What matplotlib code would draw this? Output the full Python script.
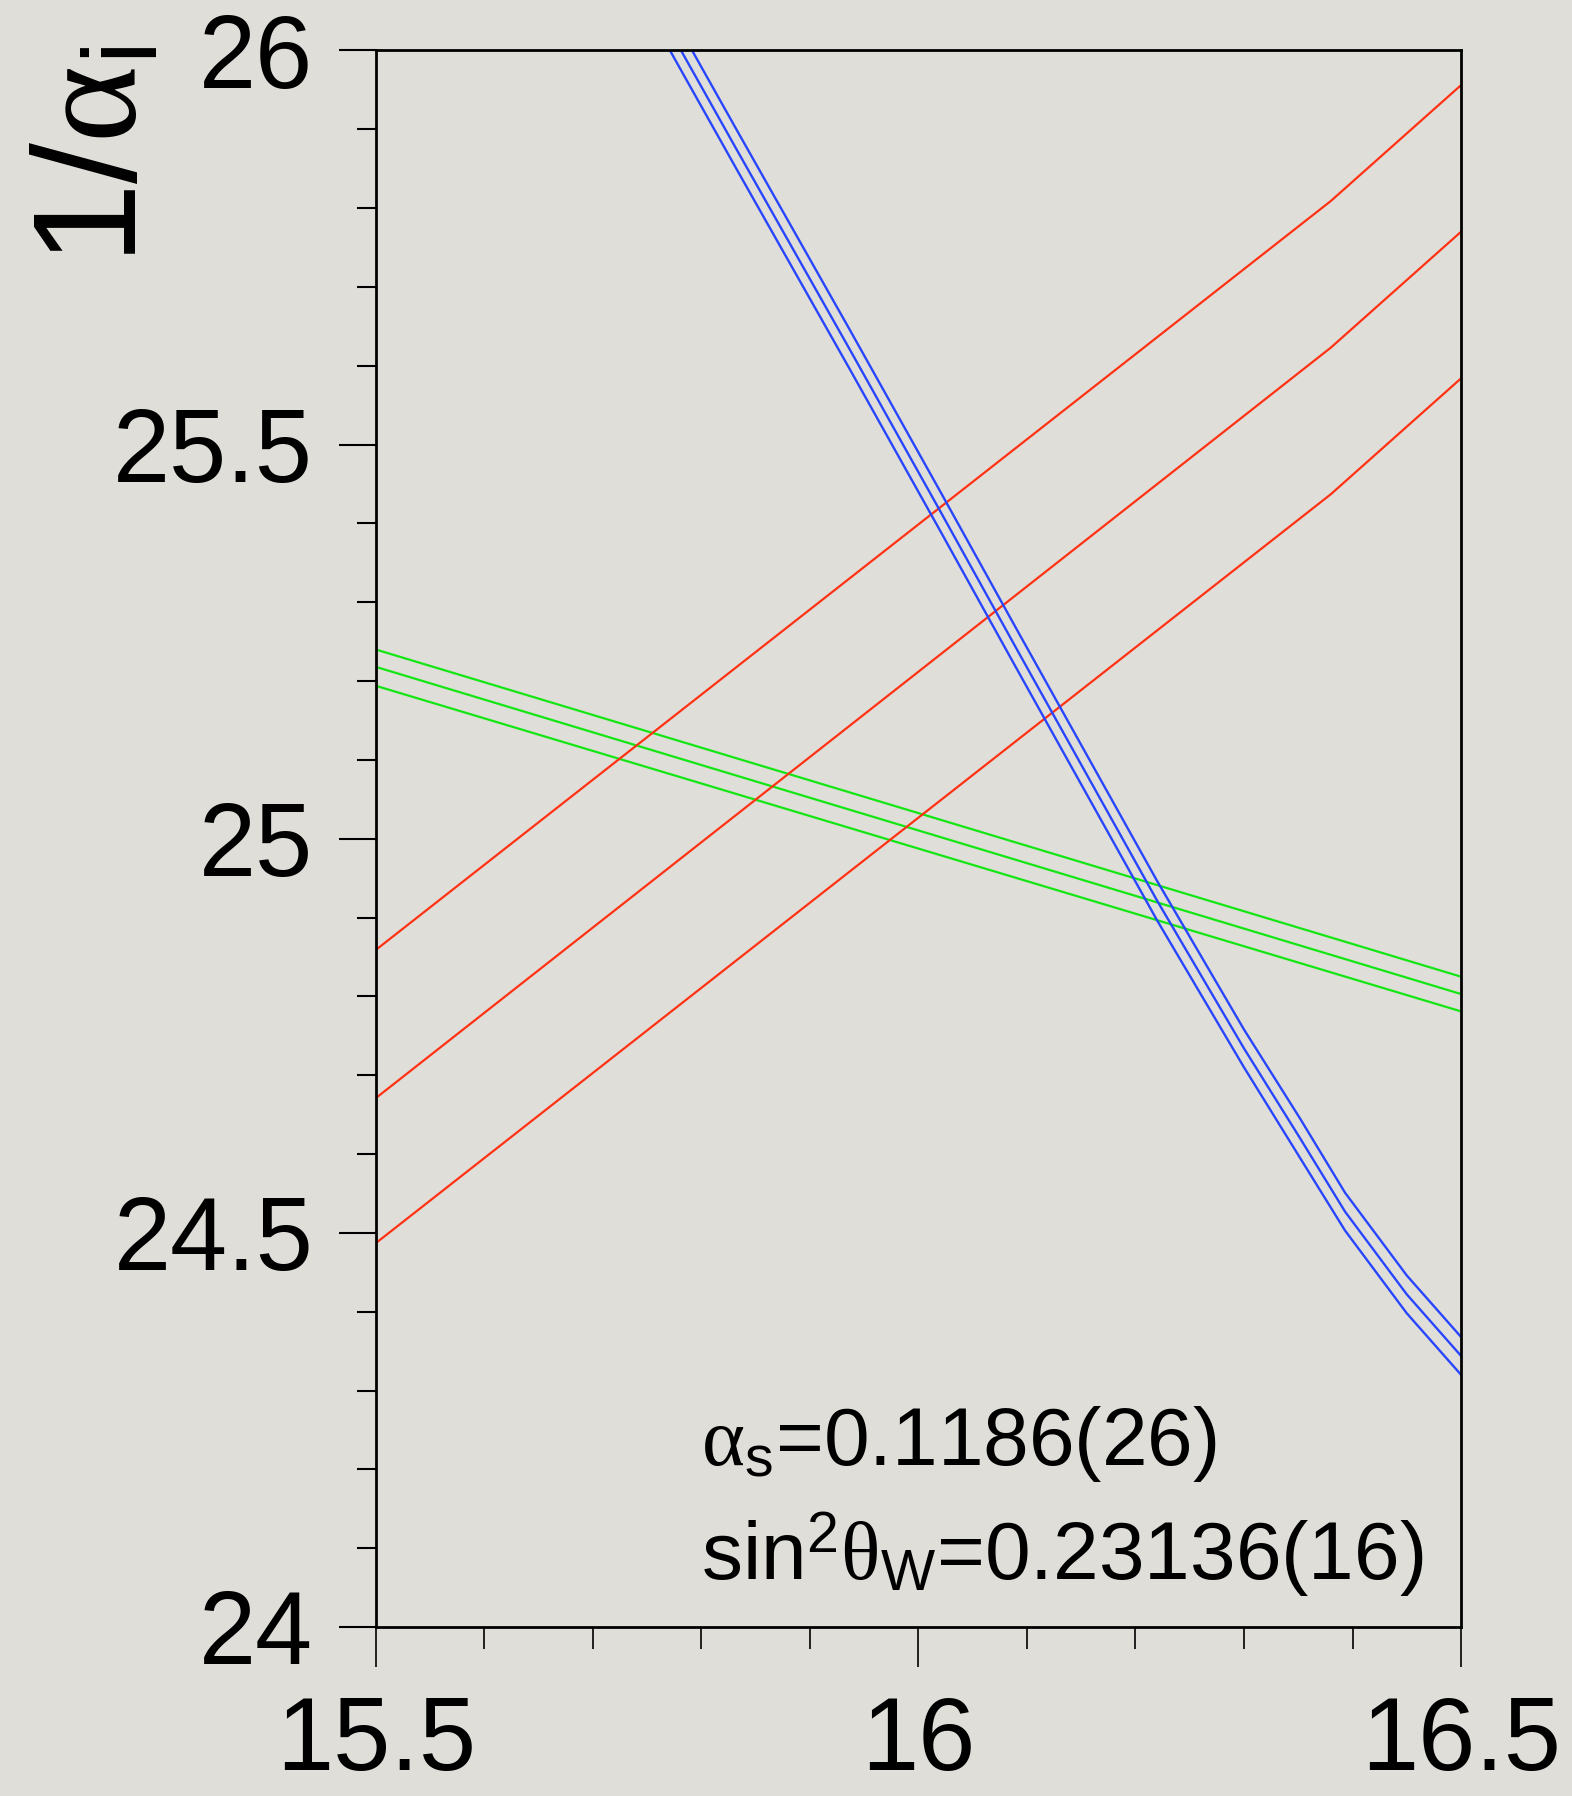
import numpy as np
import matplotlib
matplotlib.use("Agg")
import matplotlib.pyplot as plt
from matplotlib.ticker import MultipleLocator, FixedLocator

# running couplings near the crossing point
# x axis: log10(mu/GeV), y axis: 1/alpha_i

# green: alpha_1 band (upper, central, lower)
x_green = [15.5, 16.5]
green_hi = [25.240, 24.825]
green_mid = [25.218, 24.803]
green_lo = [25.194, 24.781]

# red: alpha_2 band
x_red = [15.5, 16.38, 16.5]
red_hi = [24.859, 25.809, 25.956]
red_mid = [24.671, 25.623, 25.770]
red_lo = [24.487, 25.437, 25.584]

# blue: alpha_3 band
x_blue = [15.76, 15.8326, 15.9370, 16.0199, 16.0912, 16.2197, 16.30, 16.3517, 16.3931, 16.45, 16.5]
blue_hi = [26.077, 25.899, 25.645, 25.441, 25.264, 24.947, 24.758, 24.645, 24.551, 24.446, 24.368]
blue_mid = [26.052, 25.874, 25.620, 25.416, 25.239, 24.922, 24.734, 24.620, 24.527, 24.422, 24.344]
blue_lo = [26.027, 25.849, 25.595, 25.391, 25.214, 24.897, 24.710, 24.595, 24.503, 24.398, 24.320]

xticks = [15.5, 16, 16.5]
xticklabels = ["15.5", "16", "16.5"]
yticks = [24, 24.5, 25, 25.5, 26]
yticklabels = ["24", "24.5", "25", "25.5", "26"]

bg = "#e0ded8"
c_red = "#ff3214"
c_green = "#14e614"
c_blue = "#2846ff"

plt.rcParams["font.family"] = ["Liberation Sans", "DejaVu Sans"]
plt.rcParams["mathtext.fontset"] = "custom"
plt.rcParams["mathtext.rm"] = "Liberation Serif"
plt.rcParams["mathtext.sf"] = "Liberation Sans"
plt.rcParams["mathtext.it"] = "Liberation Serif:italic"

fig = plt.figure(figsize=(15.72, 17.96), dpi=100, facecolor=bg)
ax = fig.add_axes([0.2391, 0.0941, 0.6903, 0.8778])
ax.set_facecolor(bg)

for ys in (green_hi, green_mid, green_lo):
    ax.plot(x_green, ys, color=c_green, lw=1.6)
for ys in (red_hi, red_mid, red_lo):
    ax.plot(x_red, ys, color=c_red, lw=1.6)
for ys in (blue_hi, blue_mid, blue_lo):
    ax.plot(x_blue, ys, color=c_blue, lw=1.7)

ax.set_xlim(15.5, 16.5)
ax.set_ylim(24, 26)

ax.xaxis.set_major_locator(FixedLocator(xticks))
ax.set_xticklabels(xticklabels)
ax.xaxis.set_minor_locator(MultipleLocator(0.1))
ax.yaxis.set_major_locator(FixedLocator(yticks))
ax.set_yticklabels(yticklabels)
ax.yaxis.set_minor_locator(MultipleLocator(0.1))

ax.tick_params(axis="y", which="major", direction="out", length=27, width=1.5, pad=18, labelsize=74)
ax.tick_params(axis="y", which="minor", direction="out", length=14, width=1.5)
ax.tick_params(axis="x", which="major", direction="out", length=29, width=1.2, pad=20, labelsize=74)
ax.tick_params(axis="x", which="minor", direction="out", length=16, width=1.2)

for sp in ax.spines.values():
    sp.set_linewidth(2)
    sp.set_color("black")

ax.text(15.80, 24.206, r"$\mathrm{\alpha}_{\mathsf{s}}$=0.1186(26)", fontsize=59, color="black")
ax.text(15.80, 24.061, r"sin$^{\mathsf{2}}\mathrm{\theta}_{\mathsf{W}}$=0.23136(16)", fontsize=59, color="black")

fig.text(0.0200, 0.9744, r"1/$\mathrm{\alpha}_{\mathsf{i}}$", rotation=90, ha="left", va="top", fontsize=106)

fig.savefig("out.png", dpi=100, facecolor=bg)
